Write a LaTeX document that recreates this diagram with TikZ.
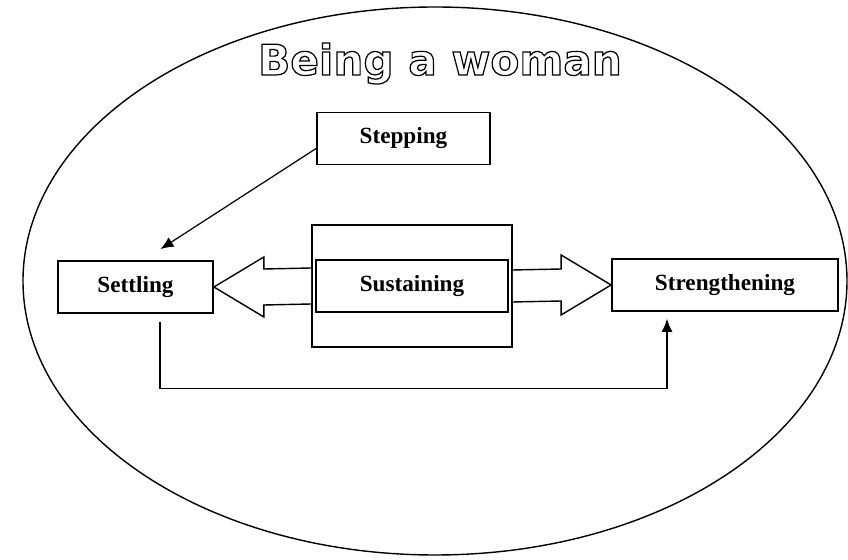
\documentclass[tikz,border=0pt]{standalone}
\usepackage{fontspec}
\setmainfont{Liberation Serif}
\newfontfamily\titlefont{DejaVu Sans}
\usepackage{xcolor}
\usepackage{tikz}
\usetikzlibrary{arrows.meta,positioning,calc,shapes.geometric}
\newcommand{\hollowtext}[1]{\special{pdf:literal direct 1 Tr 0.7 w}#1\special{pdf:literal direct 0 Tr}}

\begin{document}
\begin{tikzpicture}[
 font=\fontsize{13.2}{15}\selectfont\bfseries,
 stage/.style={draw=black,line width=1pt,fill=white,minimum height=10.4mm,inner sep=0pt,align=center},
 blockarr/.style={draw=black,line width=0.8pt,fill=white,line join=miter},
 arr/.style={-{Latex[length=2.6mm,width=2.2mm]},line width=0.7pt,draw=black}
]
\useasboundingbox (0,0) rectangle (16.96,11.2);
\node[draw=black,line width=0.8pt,ellipse,minimum width=16.48cm,minimum height=10.96cm] (world) at (8.70,5.58) {};
\node[font=\titlefont\fontsize{24}{28}\selectfont\bfseries] (title) at (8.80,9.93)
  {\hollowtext{Being a woman}};

\node[stage,minimum width=34.6mm] (stepping) at (8.07,8.43) {Stepping};
\node[stage,minimum width=31mm] (settling) at (2.71,5.46) {Settling};
\node[stage,minimum width=40mm,minimum height=24.4mm] (sustout) at (8.24,5.48) {};
\node[stage,minimum width=38.4mm] (sustaining) at (8.24,5.48) {Sustaining};
\node[stage,minimum width=45.2mm] (strength) at (14.50,5.50) {Strengthening};

\draw[blockarr] ($(sustout.west)+(0,0.36)$) -- ($(settling.east)+(1.0,0.36)$) -- ($(settling.east)+(1.0,0.6)$)
  -- (settling.east) -- ($(settling.east)+(1.0,-0.6)$) -- ($(settling.east)+(1.0,-0.36)$) -- ($(sustout.west)+(0,-0.36)$);
\draw[blockarr] ($(sustout.east)+(0,0.32)$) -- ($(strength.west)+(-1.0,0.32)$) -- ($(strength.west)+(-1.0,0.6)$)
  -- (strength.west) -- ($(strength.west)+(-1.0,-0.6)$) -- ($(strength.west)+(-1.0,-0.32)$) -- ($(sustout.east)+(0,-0.32)$);

\draw[arr] ([yshift=-0.2cm]stepping.west) -- ([xshift=0.5cm,yshift=0.22cm]settling.north);
\draw[arr] ([xshift=0.49cm,yshift=-0.16cm]settling.south) -- ++(0,-1.34) -| ([xshift=-1.16cm,yshift=-0.14cm]strength.south);
\end{tikzpicture}
\end{document}
